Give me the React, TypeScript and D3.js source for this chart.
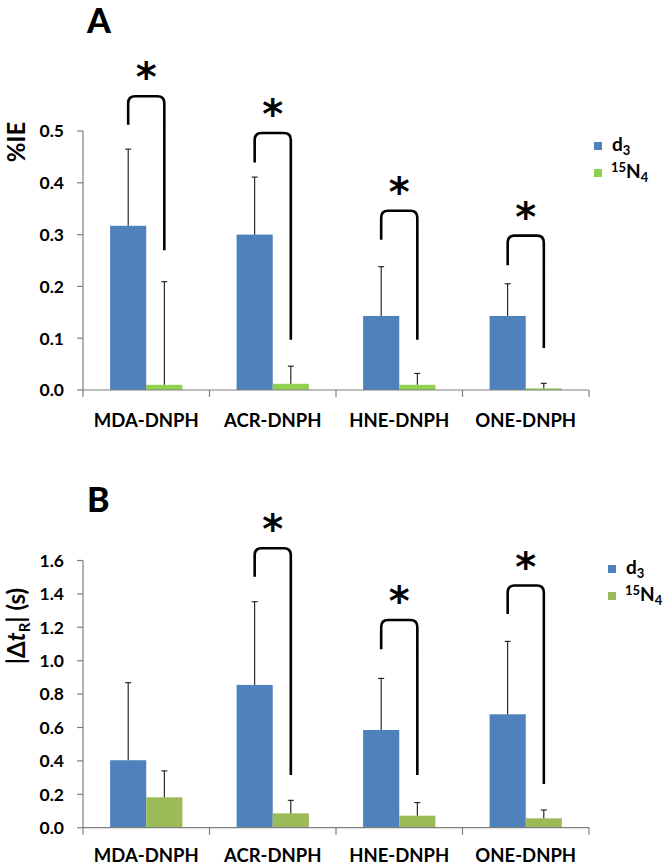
import React from "react";
import * as d3 from "d3";

const categories = ["MDA-DNPH", "ACR-DNPH", "HNE-DNPH", "ONE-DNPH"];
const seriesNames = ["d3", "15N4"];

// Panel A: %IE
const ieD3 = [0.317, 0.300, 0.143, 0.143];
const ieN4 = [0.010, 0.012, 0.010, 0.003];
const ieD3Err = [0.148, 0.111, 0.095, 0.062];
const ieN4Err = [0.199, 0.034, 0.022, 0.010];
const ieTicks = [0, 0.1, 0.2, 0.3, 0.4, 0.5];
// significance brackets: [category, top, left-leg end, right-leg end]
const ieBrkCat = [0, 1, 2, 3];
const ieBrkTop = [0.567, 0.496, 0.346, 0.298];
const ieBrkLeft = [0.512, 0.439, 0.290, 0.241];
const ieBrkRight = [0.270, 0.097, 0.097, 0.081];

// Panel B: |Δt_R| (s)
const dtD3 = [0.404, 0.855, 0.585, 0.679];
const dtN4 = [0.182, 0.086, 0.072, 0.056];
const dtD3Err = [0.464, 0.498, 0.309, 0.437];
const dtN4Err = [0.158, 0.078, 0.078, 0.050];
const dtTicks = [0, 0.2, 0.4, 0.6, 0.8, 1.0, 1.2, 1.4, 1.6];
const dtBrkCat = [1, 2, 3];
const dtBrkTop = [1.673, 1.244, 1.450];
const dtBrkLeft = [1.503, 1.068, 1.280];
const dtBrkRight = [0.316, 0.316, 0.262];

const FONT = "Lato, 'Open Sans', sans-serif";
const BLUE = "#4F81BD";

type PanelProps = {
  letter: string;
  letterY: number;
  d3v: number[];
  n4v: number[];
  d3e: number[];
  n4e: number[];
  ticks: number[];
  maxV: number;
  y0: number;
  y1: number;
  green: string;
  brkCat: number[];
  brkTop: number[];
  brkLeft: number[];
  brkRight: number[];
  legendX: number;
  legendY: number;
  labelDy: number;
  title: React.ReactNode;
  titleY: number;
};

function Panel(p: PanelProps) {
  const x = d3.scaleBand<string>().domain(categories).range([83, 589]).paddingInner(0).paddingOuter(0);
  const xs = d3.scaleBand<string>().domain(seriesNames).range([0, x.bandwidth()]).paddingInner(0).paddingOuter(0.75);
  const y = d3.scaleLinear().domain([0, p.maxV]).range([p.y0, p.y1]);
  const fmt = d3.format(".1f");
  const colors = [BLUE, p.green];
  const vals = [p.d3v, p.n4v];
  const errs = [p.d3e, p.n4e];
  const bw = xs.bandwidth();
  const boundaries = categories.map((c) => x(c)!).concat([x.range()[1]]);
  const cx = (ci: number, si: number) => x(categories[ci])! + xs(seriesNames[si])! + bw / 2;
  const r = 7;
  return (
    <g>
      <text x={87} y={p.letterY} fontFamily={FONT} fontWeight={900} fontSize={34}>{p.letter}</text>
      {/* bars */}
      {vals.map((arr, si) =>
        arr.map((v, ci) => (
          <rect key={`b${si}-${ci}`} x={x(categories[ci])! + xs(seriesNames[si])!} y={y(v)} width={bw} height={p.y0 - y(v)}
            fill={colors[si]} />
        ))
      )}
      {/* error bars */}
      {vals.map((arr, si) =>
        arr.map((v, ci) => {
          const xc = cx(ci, si);
          const top = y(v + errs[si][ci]);
          return (
            <g key={`e${si}-${ci}`} stroke="#000" strokeWidth={1}>
              <line x1={xc} x2={xc} y1={y(v)} y2={top} />
              <line x1={xc - 3} x2={xc + 3} y1={top} y2={top} />
            </g>
          );
        })
      )}
      {/* y axis */}
      <line x1={83} x2={83} y1={p.y0} y2={p.y1} stroke="#7f7f7f" strokeWidth={1.2} />
      {p.ticks.map((t) => (
        <g key={`t${t}`}>
          <line x1={77} x2={83} y1={y(t)} y2={y(t)} stroke="#7f7f7f" strokeWidth={1.2} />
          <text x={64} y={y(t)} dy="0.36em" textAnchor="end" fontFamily={FONT} fontWeight={700} fontSize={17.5}>{fmt(t)}</text>
        </g>
      ))}
      {/* x axis */}
      <line x1={83} x2={x.range()[1]} y1={p.y0} y2={p.y0} stroke="#7f7f7f" strokeWidth={1.2} />
      {boundaries.map((b, i) => (
        <line key={`xb${i}`} x1={b} x2={b} y1={p.y0} y2={p.y0 + 7} stroke="#7f7f7f" strokeWidth={1.2} />
      ))}
      {categories.map((c) => (
        <text key={c} x={x(c)! + x.bandwidth() / 2} y={p.y0 + p.labelDy} textAnchor="middle" fontFamily={FONT} fontWeight={700} fontSize={18.5}>{c}</text>
      ))}
      {/* brackets */}
      {p.brkCat.map((ci, i) => {
        const xl = cx(ci, 0);
        const xr = cx(ci, 1);
        const yt = y(p.brkTop[i]);
        const path = `M${xl},${y(p.brkLeft[i])} L${xl},${yt + r} Q${xl},${yt} ${xl + r},${yt} L${xr - r},${yt} Q${xr},${yt} ${xr},${yt + r} L${xr},${y(p.brkRight[i])}`;
        return (
          <g key={`k${i}`}>
            <path d={path} fill="none" stroke="#000" strokeWidth={2.6} />
            <text x={(xl + xr) / 2} y={yt - 5} textAnchor="middle" fontFamily="'DejaVu Sans', sans-serif" fontWeight={700} fontSize={40}>*</text>
          </g>
        );
      })}
      {/* legend */}
      <rect x={p.legendX} y={p.legendY - 4} width={8} height={8} fill={BLUE} />
      <rect x={p.legendX} y={p.legendY + 23} width={8} height={8} fill={p.green} />
      <text x={p.legendX + 18} y={p.legendY + 5} fontFamily={FONT} fontWeight={700} fontSize={19}>
        d<tspan fontSize={13} dy={4}>3</tspan>
      </text>
      <text x={p.legendX + 17} y={p.legendY + 32} fontFamily={FONT} fontWeight={700} fontSize={19}>
        <tspan fontSize={13} dy={-6}>15</tspan><tspan dy={6}>N</tspan><tspan fontSize={13} dy={4}>4</tspan>
      </text>
      {/* y title */}
      <text transform={`translate(25,${p.titleY}) rotate(-90)`} textAnchor="middle" fontFamily={FONT} fontWeight={700} fontSize={24}>{p.title}</text>
    </g>
  );
}

export default function App() {
  return (
    <svg width={666} height={866} style={{ position: "absolute", left: 0, top: 0, background: "#fff" }}>
      <Panel letter="A" letterY={33} d3v={ieD3} n4v={ieN4} d3e={ieD3Err} n4e={ieN4Err} ticks={ieTicks} maxV={0.5}
        y0={390} y1={131} green="#92D050" brkCat={ieBrkCat} brkTop={ieBrkTop} brkLeft={ieBrkLeft} brkRight={ieBrkRight}
        legendX={594} legendY={146} labelDy={37} title={"%IE"} titleY={142} />
      <Panel letter="B" letterY={512} d3v={dtD3} n4v={dtN4} d3e={dtD3Err} n4e={dtN4Err} ticks={dtTicks} maxV={1.6}
        y0={827.7} y1={560.5} green="#9BBB59" brkCat={dtBrkCat} brkTop={dtBrkTop} brkLeft={dtBrkLeft} brkRight={dtBrkRight}
        legendX={608} legendY={569} labelDy={34}
        title={<>|Δ<tspan fontStyle="italic">t</tspan><tspan fontSize={15} dy={5}>R</tspan><tspan dy={-5}>| (s)</tspan></>}
        titleY={626} />
    </svg>
  );
}
